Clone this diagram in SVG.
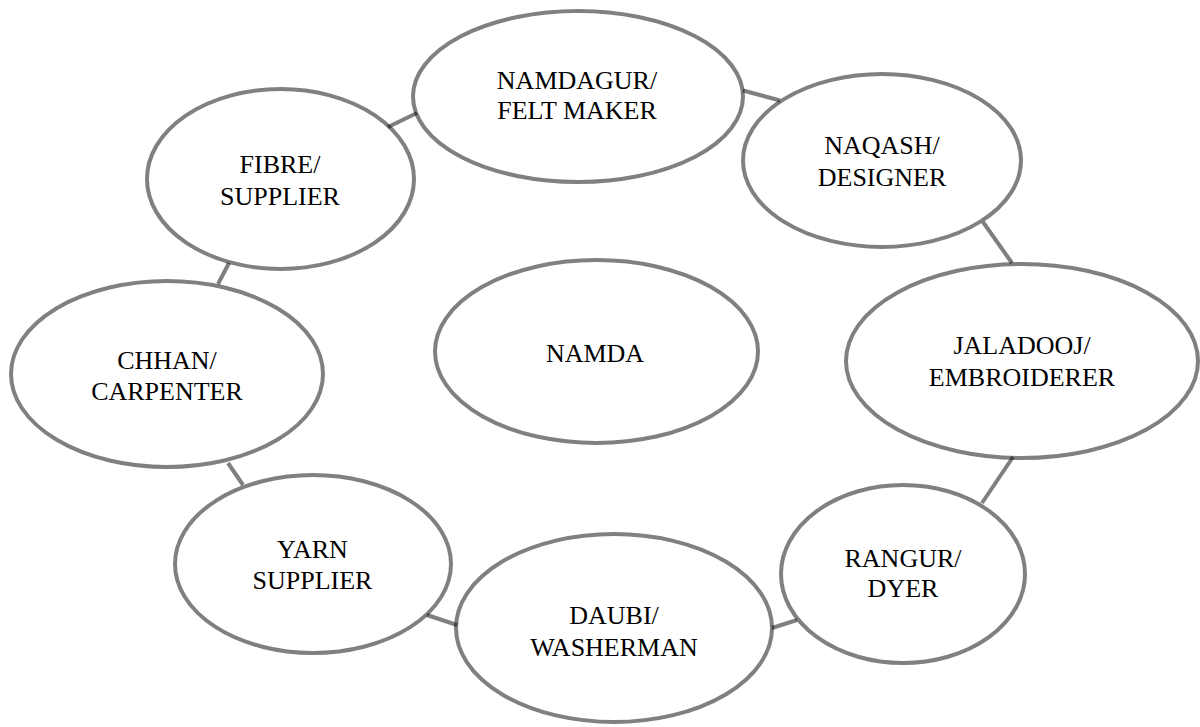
<svg xmlns="http://www.w3.org/2000/svg" width="1200" height="727" viewBox="0 0 1200 727">
<style>
.n{fill:#fff;stroke:#808080;stroke-width:4}
.c{stroke:#000;stroke-opacity:0.5;stroke-width:4;fill:none}
text{font-family:"Liberation Serif","Times New Roman",serif;font-size:26px;fill:#000;text-anchor:middle}
</style>
<rect width="1200" height="727" fill="#fff"/>
<g id="n-namdagur"><ellipse class="n" cx="578" cy="96.5" rx="165" ry="85.5"/><text x="577" y="89">NAMDAGUR/</text><text x="577" y="119">FELT MAKER</text></g>
<g id="n-fibre"><ellipse class="n" cx="280.5" cy="179" rx="133.5" ry="90"/><text x="280" y="173">FIBRE/</text><text x="280" y="205">SUPPLIER</text></g>
<g id="n-naqash"><ellipse class="n" cx="882" cy="160.5" rx="139" ry="86.5"/><text x="882" y="154">NAQASH/</text><text x="882" y="186">DESIGNER</text></g>
<g id="n-jaladooj"><ellipse class="n" cx="1022" cy="361" rx="176" ry="97"/><text x="1022" y="354">JALADOOJ/</text><text x="1022" y="386">EMBROIDERER</text></g>
<g id="n-rangur"><ellipse class="n" cx="903" cy="574" rx="122" ry="89"/><text x="903" y="567">RANGUR/</text><text x="903" y="597">DYER</text></g>
<g id="n-daubi"><ellipse class="n" cx="614" cy="628" rx="158" ry="94"/><text x="614" y="624">DAUBI/</text><text x="614" y="656">WASHERMAN</text></g>
<g id="n-yarn"><ellipse class="n" cx="313" cy="564" rx="138" ry="89"/><text x="312.5" y="558">YARN</text><text x="312.5" y="589">SUPPLIER</text></g>
<g id="n-chhan"><ellipse class="n" cx="167" cy="374" rx="156" ry="93"/><text x="167" y="369">CHHAN/</text><text x="167" y="400">CARPENTER</text></g>
<g id="n-namda"><ellipse class="n" cx="596.5" cy="351.5" rx="161.5" ry="91.5"/><text x="595" y="362">NAMDA</text></g>
<g id="connectors">
<line class="c" x1="388" y1="127" x2="417" y2="113"/>
<line class="c" x1="743" y1="90.5" x2="780" y2="100.5"/>
<line class="c" x1="983" y1="222" x2="1012" y2="263"/>
<line class="c" x1="1013" y1="457" x2="982" y2="503"/>
<line class="c" x1="797" y1="620" x2="772" y2="628"/>
<line class="c" x1="457" y1="625" x2="427" y2="615"/>
<line class="c" x1="243" y1="485" x2="228" y2="463"/>
<line class="c" x1="218" y1="284" x2="229" y2="263"/>
</g>
</svg>
